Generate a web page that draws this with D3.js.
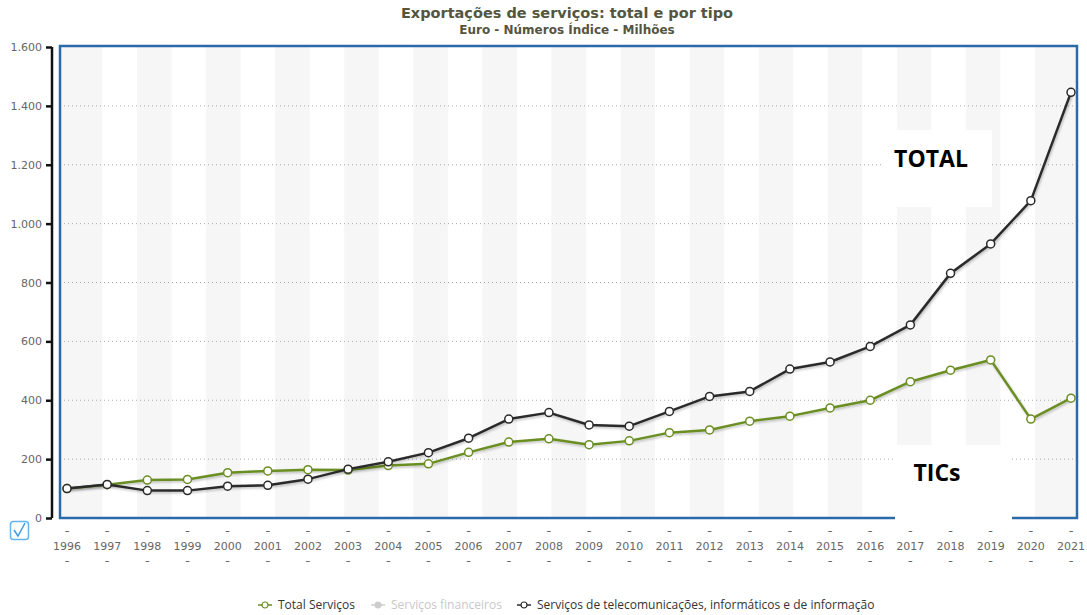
<!DOCTYPE html>
<html lang="pt">
<head>
  <meta charset="UTF-8" />
  <title>Exportações de serviços</title>
  <style>
    body { margin:0; background:#fff; }
    svg { display:block; }
    text { font-family:"DejaVu Sans", Verdana, sans-serif; }
  </style>
</head>
<body>
  <svg id="chart" width="1087" height="615"></svg>

  <script src="https://d3js.org/d3.v7.min.js"></script>
  <script>
  // --- data ---
  const years = ["1996","1997","1998","1999","2000","2001","2002","2003","2004","2005",
                 "2006","2007","2008","2009","2010","2011","2012","2013","2014","2015",
                 "2016","2017","2018","2019","2020","2021"];
  const totalServicos = [100,113,129,131,154,160,164,163,178,184,
                         223,258,269,249,262,290,299,329,346,374,
                         400,463,502,537,336,407];
  const tics = [100,114,93,93,108,111,132,166,191,222,
                271,336,358,316,312,362,413,430,506,530,
                583,656,831,931,1078,1446];
  const yTicks = [0,200,400,600,800,1000,1200,1400,1600];
  const legendItems = ["Total Serviços","Serviços financeiros",
                       "Serviços de telecomunicações, informáticos e de informação"];

  const svg = d3.select("#chart");
  const L = 60, R = 1077, T = 46, B = 518;
  const green = "#6b8e23", dark = "#2b2b2b";

  const x = d3.scalePoint().domain(years).range([67,1071]);
  const y = d3.scaleLinear().domain([0,1600]).range([B,47]);
  const pt = d3.formatLocale({decimal:",", thousands:".", grouping:[3], currency:["€",""]});
  const fmt = pt.format(",");

  const defs = svg.append("defs");
  const f = defs.append("filter").attr("id","shadow")
    .attr("x","-5%").attr("y","-5%").attr("width","110%").attr("height","120%");
  f.append("feDropShadow").attr("dx",1).attr("dy",1.5).attr("stdDeviation",1)
    .attr("flood-color","#000").attr("flood-opacity",0.25);

  // title
  svg.append("text").attr("x",567).attr("y",18).attr("text-anchor","middle")
     .style("font-size","14.5px").style("font-weight","bold").style("fill","#55553f")
     .text("Exportações de serviços: total e por tipo");
  svg.append("text").attr("x",567).attr("y",34).attr("text-anchor","middle")
     .style("font-size","12px").style("font-weight","bold").style("fill","#55553f")
     .text("Euro - Números Índice - Milhões");

  // alternating background stripes
  const stripeStep = 69.08, stripeW = 34.5;
  const stripes = d3.range(-1,14).map(k => {
    let x0 = 137 + k*stripeStep, x1 = x0 + stripeW;
    if (k === -1) x0 = L;
    if (k === 13) x1 = R;
    return [Math.max(L,x0), Math.min(R,x1)];
  });
  svg.append("g").selectAll("rect").data(stripes).join("rect")
     .attr("x",d=>d[0]).attr("y",T).attr("width",d=>d[1]-d[0]).attr("height",B-T)
     .attr("fill","#f6f6f6");

  // gridlines
  svg.append("g").selectAll("line").data(yTicks.filter(v=>v>0 && v<1600)).join("line")
     .attr("x1",L).attr("x2",R).attr("y1",d=>y(d)).attr("y2",d=>y(d))
     .attr("stroke","#aaa").attr("stroke-width",1).attr("stroke-dasharray","1,3");

  // y axis
  const gy = svg.append("g").attr("transform","translate(52,0)")
     .call(d3.axisLeft(y).tickValues(yTicks).tickFormat(fmt).tickSize(6).tickPadding(4));
  gy.select(".domain").attr("stroke","#111").attr("stroke-width",2.5).attr("d","M0,47V518");
  gy.selectAll(".tick line").attr("stroke","#111").attr("stroke-width",2.5);
  gy.selectAll(".tick text").style("font-size","11px").style("fill","#666")
     .style("font-family","DejaVu Sans, Verdana, sans-serif");

  // x labels with dashes
  const gx = svg.append("g").selectAll("g").data(years).join("g")
     .attr("transform",d=>`translate(${x(d)},0)`);
  gx.append("text").attr("y",550).attr("text-anchor","middle")
     .style("font-size","11px").style("fill","#666").text(d=>d);
  gx.append("text").attr("y",535).attr("text-anchor","middle")
     .style("font-size","13px").style("fill","#666").text("-");
  gx.append("text").attr("y",565).attr("text-anchor","middle")
     .style("font-size","13px").style("fill","#666").text("-");

  // series
  const series = [
    {name:legendItems[0], values:totalServicos, color:green},
    {name:legendItems[2], values:tics, color:dark}
  ];
  const line = d3.line().x((d,i)=>x(years[i])).y(d=>y(d));
  series.forEach(s=>{
    const g = svg.append("g");
    g.append("path").datum(s.values).attr("d",line)
     .attr("fill","none").attr("stroke",s.color).attr("stroke-width",2.5)
     .attr("stroke-linejoin","round").attr("filter","url(#shadow)");
    g.selectAll("circle").data(s.values).join("circle")
     .attr("cx",(d,i)=>x(years[i])).attr("cy",d=>y(d)).attr("r",4)
     .attr("fill","#fff").attr("stroke",s.color).attr("stroke-width",1.5);
  });

  // plot border
  svg.append("rect").attr("x",L).attr("y",T).attr("width",R-L).attr("height",B-T)
     .attr("fill","none").attr("stroke","#2a6aa8").attr("stroke-width",2.5);

  // annotation boxes
  svg.append("rect").attr("x",883).attr("y",130).attr("width",109).attr("height",77).attr("fill","#fff");
  svg.append("text").attr("x",931).attr("y",167).attr("text-anchor","middle")
     .style("font-family","'Open Sans', 'Liberation Sans', sans-serif")
     .style("font-size","23px").style("font-weight","bold").style("fill","#000").text("TOTAL");
  svg.append("rect").attr("x",895).attr("y",445).attr("width",117).attr("height",78).attr("fill","#fff");
  svg.append("text").attr("x",937).attr("y",481).attr("text-anchor","middle")
     .style("font-family","'Open Sans', 'Liberation Sans', sans-serif")
     .style("font-size","23px").style("font-weight","bold").style("fill","#000").text("TICs");

  // checkbox
  svg.append("rect").attr("x",10.5).attr("y",521.5).attr("width",18).attr("height",18).attr("rx",3)
     .attr("fill","#fff").attr("stroke","#66b3ee").attr("stroke-width",1.5);
  svg.append("path").attr("d","M14,530 L18,536 L25,523")
     .attr("fill","none").attr("stroke","#3f9be3").attr("stroke-width",1.5);

  // legend
  const legend = [
    {label:legendItems[0], x:258, color:green, text:"#333", fill:"#fff"},
    {label:legendItems[1], x:371, color:"#ccc", text:"#c8c8c8", fill:"#ccc"},
    {label:legendItems[2], x:517, color:dark, text:"#333", fill:"#fff"}
  ];
  const lg = svg.append("g").selectAll("g").data(legend).join("g")
     .attr("transform",d=>`translate(${d.x},605)`);
  lg.append("line").attr("x1",0).attr("x2",14).attr("stroke",d=>d.color).attr("stroke-width",1.5);
  lg.append("circle").attr("cx",7).attr("r",3).attr("fill",d=>d.fill)
     .attr("stroke",d=>d.color).attr("stroke-width",1.2);
  lg.append("text").attr("x",20).attr("y",4)
     .style("font-family","'Open Sans', 'Liberation Sans', sans-serif")
     .style("font-size","12px").style("fill",d=>d.text).text(d=>d.label);
  </script>
</body>
</html>
